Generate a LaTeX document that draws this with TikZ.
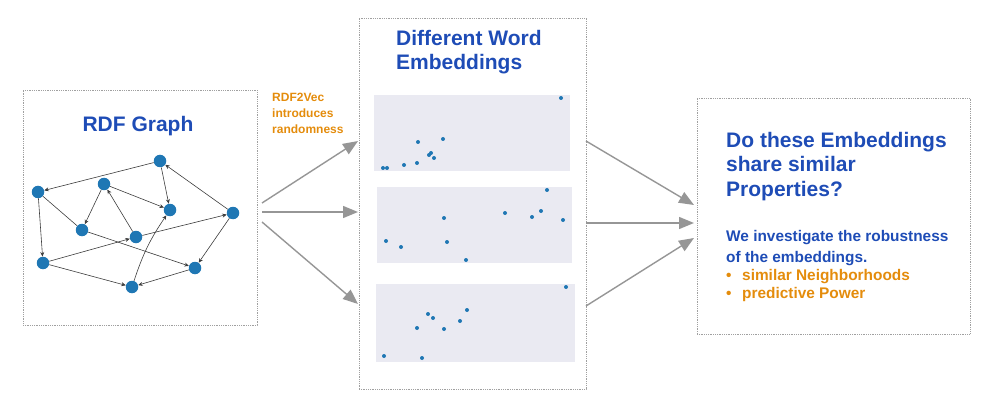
\documentclass[tikz,border=0pt]{standalone}
\usepackage{fontspec}
\setmainfont{Liberation Sans}
\usetikzlibrary{arrows.meta}
\definecolor{figBlue}{RGB}{30,76,182}
\definecolor{figOrange}{RGB}{228,140,12}
\definecolor{figDot}{RGB}{31,119,180}
\definecolor{figPanel}{RGB}{234,234,242}
\definecolor{figArrow}{RGB}{150,150,150}
\definecolor{figFrame}{RGB}{160,160,160}
\definecolor{figEdge}{RGB}{60,60,60}

\begin{document}
\begin{tikzpicture}[
  x=1pt, y=-1pt,
  frame/.style={draw=figFrame, densely dotted, line width=0.8pt, inner sep=0pt},
  panel/.style={fill=figPanel, inner sep=0pt},
  vtx/.style={circle, fill=figDot, minimum size=12.5pt, inner sep=0pt},
  ttl/.style={text=figBlue, font=\bfseries\fontsize{21}{24.5}\selectfont},
  txt/.style={anchor=north west, inner sep=0pt, align=left},
  ed/.style={-{Stealth[length=4.5pt,width=4pt]}, figEdge, line width=0.6pt},
  big/.style={-{Triangle[length=15pt,width=12pt]}, figArrow, line width=1.4pt}
]
\useasboundingbox (0,0) rectangle (987,406);

% frames
\node[frame, minimum width=234pt, minimum height=235pt] (graphbox) at (140,207.5) {};
\node[frame, minimum width=227pt, minimum height=371pt] (embbox) at (472.5,203.5) {};
\node[frame, minimum width=273pt, minimum height=236pt] (qbox) at (833.5,216) {};

% graph
\node[anchor=base, ttl] (graphtitle) at (138,132) {RDF Graph};
\node[vtx] (n1) at (160,161) {};
\node[vtx] (n2) at (38,192) {};
\node[vtx] (n3) at (104,184) {};
\node[vtx] (n4) at (170,210) {};
\node[vtx] (n5) at (233,213) {};
\node[vtx] (n6) at (82,230) {};
\node[vtx] (n7) at (136,237) {};
\node[vtx] (n8) at (43,263) {};
\node[vtx] (n9) at (195,268) {};
\node[vtx] (n10) at (132,287) {};

\draw[ed] (n1) -- (n2);
\draw[ed] (n1) -- (n4);
\draw[ed] (n5) -- (n1);
\draw[ed] (n5) -- (n9);
\draw[ed] (n3) -- (n4);
\draw[ed] (n3) -- (n6);
\draw[ed] (n7) -- (n3);
\draw[figEdge, line width=0.6pt] (n2) -- (n6);
\draw[ed] (n2) -- (n8);
\draw[ed] (n8) -- (n7);
\draw[ed] (n8) -- (n10);
\draw[ed] (n6) -- (n9);
\draw[ed] (n7) -- (n5);
\draw[ed] (n9) -- (n10);
\draw[ed] (n10) to[bend left=8] (n4);

\node[txt, text=figOrange, font=\bfseries\fontsize{12}{16}\selectfont] (rand) at (272,93)
  {RDF2Vec\\introduces\\randomness};

% embeddings
\node[txt, ttl] (embtitle) at (396,30) {Different Word\\Embeddings};
\node[panel, minimum width=196pt, minimum height=76pt] (p1) at (472,133) {};
\node[panel, minimum width=195pt, minimum height=76pt] (p2) at (474.5,225) {};
\node[panel, minimum width=199pt, minimum height=78pt] (p3) at (475.5,323) {};

\foreach \px/\py in {561/98, 418/142, 443/139, 431/153, 429/155, 434/158, 417/163, 404/165, 383/168, 387/168,
  547/190, 505/213, 532/217, 541/211, 563/220, 444/218, 386/241, 401/247, 447/242, 466/260,
  566/287, 428/314, 433/318, 467/310, 460/321, 417/328, 444/329, 384/356, 422/358}
  \fill[figDot] (\px,\py) circle (2pt);

% arrows
\coordinate (gout1) at (262,203);
\coordinate (gout2) at (262,212);
\coordinate (gout3) at (262,222);
\coordinate (ein1) at (358,141);
\coordinate (ein2) at (358,212);
\coordinate (ein3) at (358,304);
\coordinate (eout1) at (586,141);
\coordinate (eout2) at (586,223);
\coordinate (eout3) at (586,306);
\coordinate (qin1) at (694,205);
\coordinate (qin2) at (694,223);
\coordinate (qin3) at (694,238);

\draw[big] (gout1) -- (ein1);
\draw[big] (gout2) -- (ein2);
\draw[big] (gout3) -- (ein3);
\draw[big] (eout1) -- (qin1);
\draw[big] (eout2) -- (qin2);
\draw[big] (eout3) -- (qin3);

% question
\node[txt, ttl] (question) at (726,132) {Do these Embeddings\\share similar\\Properties?};
\node[txt, text=figBlue, font=\bfseries\fontsize{15.4}{21}\selectfont] (invest) at (726,230)
  {We investigate the robustness\\of the embeddings.};
\node[txt, text=figOrange, font=\bfseries\fontsize{15.4}{18}\selectfont] (props) at (726,269)
  {\makebox[16pt][l]{\textbullet}similar Neighborhoods\\\makebox[16pt][l]{\textbullet}predictive Power};

\end{tikzpicture}
\end{document}
